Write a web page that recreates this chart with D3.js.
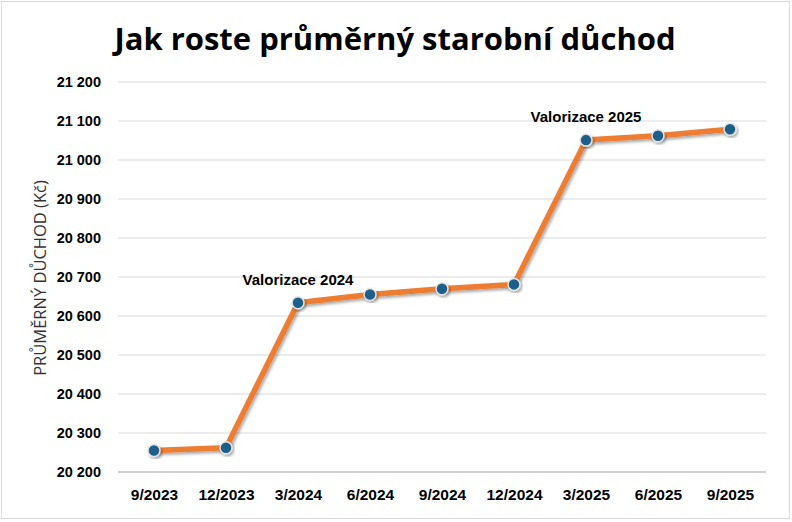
<!DOCTYPE html>
<html>
<head>
<meta charset="utf-8">
<script src="https://cdn.jsdelivr.net/npm/d3@7"></script>
<style>
  body { margin: 0; background: #fff; }
</style>
</head>
<body>
<script>
var w = 792;
var h = 522;

// data
var months = ["9/2023", "12/2023", "3/2024", "6/2024", "9/2024", "12/2024", "3/2025", "6/2025", "9/2025"];
var pension = [20255, 20262, 20634, 20655, 20670, 20681, 21051, 21062, 21079];
var yTicks = [20200, 20300, 20400, 20500, 20600, 20700, 20800, 20900, 21000, 21100, 21200];
var notes = [
    { month: "3/2024", text: "Valorizace 2024" },
    { month: "3/2025", text: "Valorizace 2025" }
];

var margin = { top: 82, right: 26, bottom: 50, left: 118 };

var svg = d3.select("body")
    .append("svg")
    .attr("width", w)
    .attr("height", h);

// soft shadow under line and markers
var defs = svg.append("defs");
var shadow = defs.append("filter")
    .attr("id", "shadow")
    .attr("x", "-20%").attr("y", "-20%")
    .attr("width", "140%").attr("height", "140%");
shadow.append("feDropShadow")
    .attr("dx", 1.5).attr("dy", 2)
    .attr("stdDeviation", 1.8)
    .attr("flood-color", "#000")
    .attr("flood-opacity", 0.35);

// outer frame
svg.append("rect")
    .attr("x", 1.5).attr("y", 1.5)
    .attr("width", w - 4).attr("height", h - 5)
    .attr("fill", "none")
    .attr("stroke", "#d9d9d9");

var x = d3.scalePoint()
    .domain(months)
    .range([margin.left, w - margin.right])
    .padding(0.5);

var y = d3.scaleLinear()
    .domain([20200, 21200])
    .range([h - margin.bottom, margin.top]);

// title
svg.append("text")
    .attr("x", 395)
    .attr("y", 50)
    .attr("text-anchor", "middle")
    .style("font-family", "'Open Sans', 'Noto Sans', sans-serif")
    .style("font-weight", "bold")
    .style("font-size", "31px")
    .attr("fill", "#000")
    .text("Jak roste průměrný starobní důchod");

// gridlines
svg.selectAll("line.grid")
    .data(yTicks)
    .enter()
    .append("line")
    .attr("class", "grid")
    .attr("x1", margin.left)
    .attr("x2", w - margin.right)
    .attr("y1", function (d) { return y(d); })
    .attr("y2", function (d) { return y(d); })
    .attr("stroke", function (d) { return d === 20200 ? "#bfbfbf" : "#d9d9d9"; })
    .attr("stroke-width", function (d) { return d === 20200 ? 1.3 : 1; });

// y axis labels
var fmt = function (d) {
    return d3.format(",")(d).replace(",", " ");
};
var yAxis = svg.append("g")
    .attr("transform", "translate(" + (margin.left - 17) + ",0)")
    .call(d3.axisLeft(y).tickValues(yTicks).tickFormat(fmt).tickSize(0).tickPadding(0));
yAxis.select(".domain").remove();
yAxis.selectAll("text")
    .style("font-family", "'Liberation Sans', Arial, sans-serif")
    .style("font-weight", "bold")
    .style("font-size", "14.5px")
    .attr("fill", "#000");

// x axis labels
var xAxis = svg.append("g")
    .attr("transform", "translate(0," + (h - margin.bottom + 17) + ")")
    .call(d3.axisBottom(x).tickSize(0).tickPadding(0));
xAxis.select(".domain").remove();
xAxis.selectAll("text")
    .style("font-family", "'Liberation Sans', Arial, sans-serif")
    .style("font-weight", "bold")
    .style("font-size", "15.5px")
    .attr("fill", "#000");

// y axis title
svg.append("text")
    .attr("transform", "translate(46," + 278 + ") rotate(-90)")
    .attr("text-anchor", "middle")
    .style("font-family", "'Open Sans', 'Noto Sans', sans-serif")
    .style("font-size", "16.5px")
    .attr("fill", "#333")
    .text("PRŮMĚRNÝ DŮCHOD (Kč)");

// line
var line = d3.line()
    .x(function (d, i) { return x(months[i]); })
    .y(function (d) { return y(d); });

svg.append("path")
    .datum(pension)
    .attr("d", line)
    .attr("fill", "none")
    .attr("stroke", "#ed7d31")
    .attr("stroke-width", 5.5)
    .attr("stroke-linejoin", "round")
    .attr("filter", "url(#shadow)");

// markers
svg.selectAll("circle.pt")
    .data(pension)
    .enter()
    .append("circle")
    .attr("class", "pt")
    .attr("cx", function (d, i) { return x(months[i]); })
    .attr("cy", function (d) { return y(d); })
    .attr("r", 6)
    .attr("fill", "#1f5f8b")
    .attr("stroke", "#e6e6e6")
    .attr("stroke-width", 1.5)
    .attr("filter", "url(#shadow)");

// annotations
svg.selectAll("text.note")
    .data(notes)
    .enter()
    .append("text")
    .attr("class", "note")
    .attr("x", function (d) { return x(d.month); })
    .attr("y", function (d) { return y(pension[months.indexOf(d.month)]) - 18; })
    .attr("text-anchor", "middle")
    .style("font-family", "'Liberation Sans', Arial, sans-serif")
    .style("font-weight", "bold")
    .style("font-size", "15px")
    .attr("fill", "#000")
    .text(function (d) { return d.text; });
</script>
</body>
</html>
